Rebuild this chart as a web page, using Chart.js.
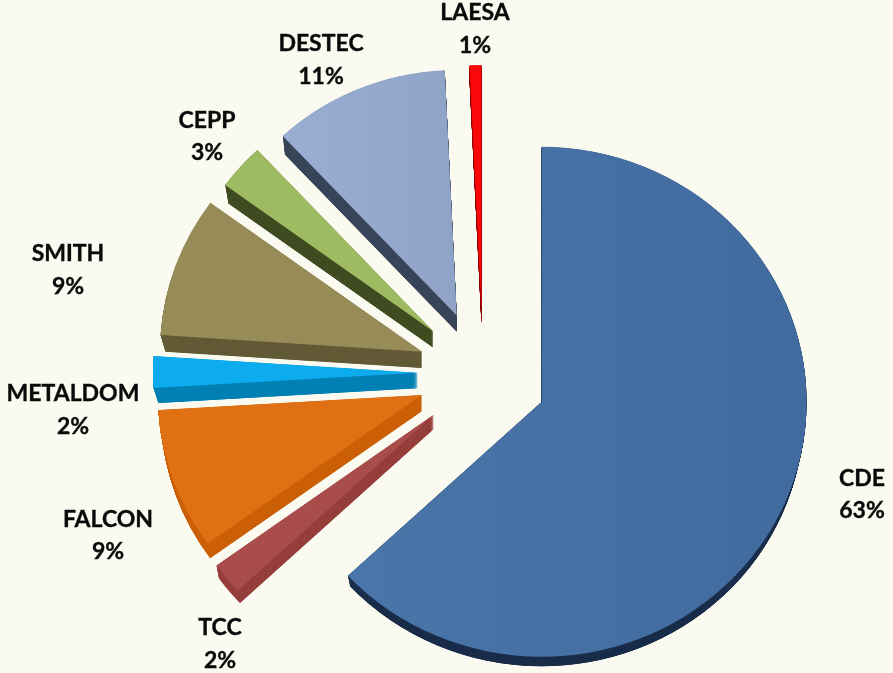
<!DOCTYPE html>
<html>
<head>
<meta charset="utf-8">
<script src="https://cdn.jsdelivr.net/npm/chart.js@4"></script>
<style>
html,body{margin:0;padding:0;background:#FAFAF0;}
canvas{display:block;}
</style>
</head>
<body>
<canvas id="c" width="893" height="673"></canvas>
<script>
const categories = ["CDE","TCC","FALCON","METALDOM","SMITH","CEPP","DESTEC","LAESA"];
const shares = [63.05,2,9,2,9,3,11.2,0.75];
const shareLabels = ["63%","2%","9%","2%","9%","3%","11%","1%"];

const topColors  = ["#4570A3","#A84D4B","#DF7014","#0DACEF","#978B58","#9FBB61","#96AACE","#F80808"];
const sideColors = ["#1B2E4B","#953E3C","#CC6008","#0080B4","#635B37","#404D22","#384458","#8A0000"];

const sliceRadius = [265,268,264,265,262,258,255,255];
const sliceDepth  = [13,15,17,16,17,17,17,14];
const sliceShrink = [3,3,3,5,5,4,3,0];
const sliceNudgeX = [0,2,1,1,1,0,0,1];
const sliceNudgeY = [4,2,1,0,0,0,0,0];
const explodeDistance = 65;
const verticalSquash = 0.962;
const pieCenterY = 373;
const extrudeStep = 0.25;

const labelX = [862,220,108,73,68,207,321,475];
const labelY = [478.5,628,519.5,394,254,120.5,44,13];
const labelLineGap = 32.5;
const labelFont = 'bold 23px Lato, "Noto Sans", sans-serif';

const canvas = document.getElementById('c');
const ctx2d = canvas.getContext('2d');

function fillFor(i){
  if(categories[i]==="CDE"){
    const g = ctx2d.createLinearGradient(350,0,810,0);
    g.addColorStop(0,"#4A75A8"); g.addColorStop(1,"#416B9F");
    return g;
  }
  if(categories[i]==="DESTEC"){
    const g = ctx2d.createLinearGradient(285,0,460,0);
    g.addColorStop(0,"#9AADD2"); g.addColorStop(1,"#8FA3C7");
    return g;
  }
  return topColors[i];
}

const piePlugin = {
  id:'pie3d',
  afterDatasetsUpdate(chart){
    chart.getDatasetMeta(0).data.forEach((el,i)=>{
      const mid = (el.startAngle+el.endAngle)/2;
      el.outerRadius = sliceRadius[i];
      el.x += Math.cos(mid)*explodeDistance + sliceNudgeX[i];
      el.y += Math.sin(mid)*explodeDistance + sliceNudgeY[i];
    });
  },
  beforeDatasetsDraw(chart){
    const c = chart.ctx;
    c.save();
    c.translate(0,pieCenterY); c.scale(1,verticalSquash); c.translate(0,-pieCenterY);
    chart.getDatasetMeta(0).data.forEach((el,i)=>{
      const opts = el.options, r = el.outerRadius;
      el.options = Object.assign({},opts,{backgroundColor:sideColors[i],borderWidth:0});
      for(let k=sliceDepth[i];k>0;k-=extrudeStep){
        c.save();
        c.translate(0,k);
        el.outerRadius = r - sliceShrink[i]*k/sliceDepth[i];
        el.draw(c);
        c.restore();
      }
      el.outerRadius = r;
      el.options = opts;
    });
  },
  afterDatasetsDraw(chart){
    const c = chart.ctx;
    c.restore();
    c.save();
    c.font = labelFont;
    c.fillStyle = '#0A0A0A';
    c.strokeStyle = '#0A0A0A';
    c.lineWidth = 0.35;
    c.textAlign = 'center';
    c.textBaseline = 'middle';
    categories.forEach((name,i)=>{
      c.fillText(name,labelX[i],labelY[i]);
      c.strokeText(name,labelX[i],labelY[i]);
      c.fillText(shareLabels[i],labelX[i],labelY[i]+labelLineGap);
      c.strokeText(shareLabels[i],labelX[i],labelY[i]+labelLineGap);
    });
    c.restore();
  }
};

new Chart(ctx2d,{
  type:'pie',
  data:{
    labels:categories,
    datasets:[{
      data:shares,
      backgroundColor:categories.map((_,i)=>fillFor(i)),
      borderWidth:0,
      radius:265,
      clip:false
    }]
  },
  options:{
    responsive:false,
    animation:false,
    layout:{padding:{left:71,top:73,right:0,bottom:0}},
    plugins:{legend:{display:false},tooltip:{enabled:false},title:{display:false}}
  },
  plugins:[piePlugin]
});
</script>
</body>
</html>
